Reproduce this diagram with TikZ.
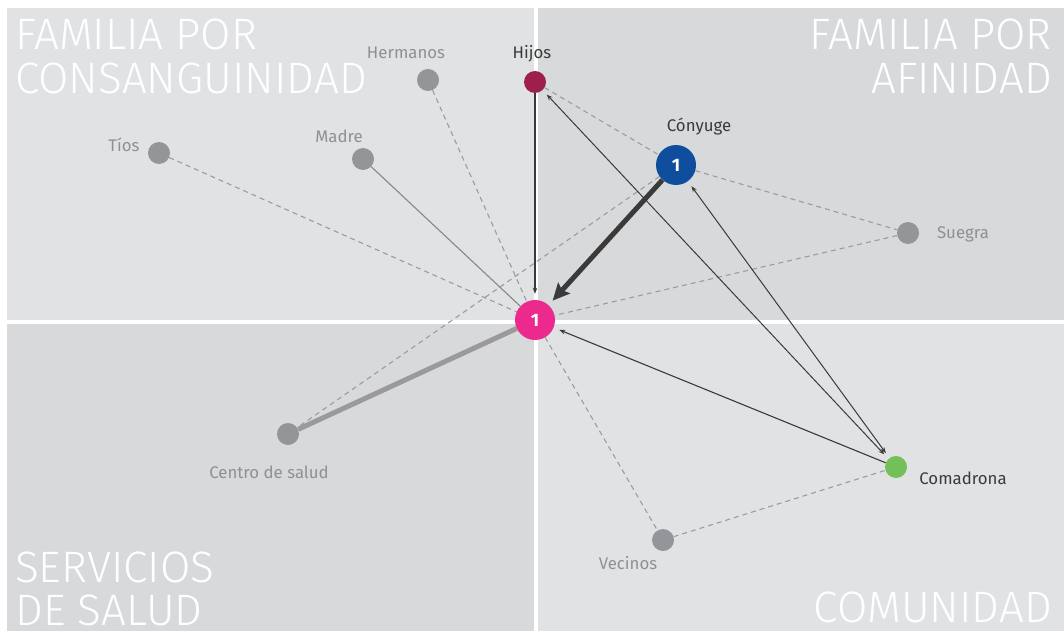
\documentclass[tikz,border=0pt]{standalone}
\usepackage{fontspec}
\setmainfont{Fira Sans}
\newfontfamily\titlefont{Fira Sans Light}
\usetikzlibrary{arrows.meta}
\definecolor{panelA}{HTML}{E1E2E4}
\definecolor{panelB}{HTML}{D8D9DB}
\definecolor{nodegray}{HTML}{939598}
\definecolor{labgray}{HTML}{8E9093}
\definecolor{labdark}{HTML}{3A3A3A}
\definecolor{hijoscol}{HTML}{9E1F4B}
\definecolor{conycol}{HTML}{0E4E9D}
\definecolor{egocol}{HTML}{EC2A8E}
\definecolor{comacol}{HTML}{74BF5A}
\definecolor{dashcol}{HTML}{9A9C9F}
\definecolor{darkline}{HTML}{3A3A3A}
\definecolor{thinline}{HTML}{85878A}
\definecolor{thickgraycol}{HTML}{9A9A9C}
\pgfdeclarelayer{bg}
\pgfdeclarelayer{edges}
\pgfsetlayers{bg,edges,main}
\tikzset{
  paneltitle/.style={font=\titlefont\fontsize{44}{44}\selectfont, text=white, inner sep=0pt},
  gnode/.style={circle, fill=nodegray, minimum size=22pt, inner sep=0pt},
  cnode/.style={circle, minimum size=22pt, inner sep=0pt},
  bignode/.style={circle, minimum size=40pt, inner sep=0pt, text=white, font=\bfseries\fontsize{18}{18}\selectfont},
  glabel/.style={font=\fontsize{16.8}{17}\selectfont, text=labgray, inner sep=0pt},
  dlabel/.style={font=\fontsize{16.8}{17}\selectfont, text=labdark, inner sep=0pt},
  dashedge/.style={draw=dashcol, line width=1.1pt, dash pattern=on 5pt off 4pt},
  thinedge/.style={draw=thinline, line width=1.1pt},
  darkarrow/.style={draw=darkline, line width=1.1pt, -{Stealth[length=6pt,width=4.5pt]}, shorten >=6pt},
  biarrow/.style={draw=darkline, line width=1pt, {Stealth[length=6pt,width=4.5pt]}-{Stealth[length=6pt,width=4.5pt]}, shorten >=6pt, shorten <=6pt},
  thickarrow/.style={draw=darkline, line width=5pt, -{Stealth[length=17pt,width=16pt,inset=3pt]}, shorten >=6pt},
  thickgray/.style={draw=thickgraycol, line width=5pt}
}
\begin{document}
\begin{tikzpicture}[x=1pt,y=-1pt]
\useasboundingbox (0,0) rectangle (1064,631);
\begin{pgfonlayer}{bg}
\fill[white] (0,0) rectangle (1064,631);
\fill[panelA] (7,8) rectangle (534,320);
\fill[panelB] (538,8) rectangle (1064,320);
\fill[panelB] (7,324) rectangle (534,631);
\fill[panelA] (538,324) rectangle (1064,631);
\end{pgfonlayer}

% titles
\node[paneltitle, anchor=base west] (t1a) at (15,50) {FAMILIA POR};
\node[paneltitle, anchor=base west] (t1b) at (15,94) {CONSANGUINIDAD};
\node[paneltitle, anchor=base east] (t2a) at (1052,50) {FAMILIA POR};
\node[paneltitle, anchor=base east] (t2b) at (1052,94) {AFINIDAD};
\node[paneltitle, anchor=base west] (t3a) at (15,582) {SERVICIOS};
\node[paneltitle, anchor=base west] (t3b) at (15,625) {DE SALUD};
\node[paneltitle, anchor=base east] (t4a) at (1052,622) {COMUNIDAD};

% nodes
\node[gnode] (tios) at (159,153) {};
\node[gnode] (madre) at (363,159) {};
\node[gnode] (herm) at (428,80) {};
\node[cnode, fill=hijoscol] (hijos) at (535,82) {};
\node[bignode, fill=conycol] (cony) at (676,165) {1};
\node[gnode] (suegra) at (908,233) {};
\node[cnode, fill=comacol] (coma) at (896,467) {};
\node[gnode] (vec) at (663,540) {};
\node[gnode] (centro) at (288,434) {};
\node[bignode, fill=egocol] (ego) at (535,320) {1};

% labels
\node[glabel, anchor=base] (tiosl) at (124,152) {Tíos};
\node[glabel, anchor=base] (madrel) at (339,143) {Madre};
\node[glabel, anchor=base] (herml) at (406,59) {Hermanos};
\node[dlabel, anchor=base] (hijosl) at (532,59) {Hijos};
\node[dlabel, anchor=base] (conyl) at (699,132) {Cónyuge};
\node[glabel, anchor=base] (suegral) at (963,238) {Suegra};
\node[dlabel, anchor=base] (comal) at (963,484) {Comadrona};
\node[glabel, anchor=base] (vecl) at (628,569) {Vecinos};
\node[glabel, anchor=base] (centrol) at (269,478) {Centro de salud};

% edges
\begin{pgfonlayer}{edges}
\draw[dashedge] (tios) -- (ego);
\draw[thinedge] (madre) -- (ego);
\draw[dashedge] (herm) -- (ego);
\draw[dashedge] (hijos) -- (cony);
\draw[dashedge] (cony) -- (suegra);
\draw[dashedge] (cony) -- (centro);
\draw[dashedge] (suegra) -- (ego);
\draw[dashedge] (ego) -- (vec);
\draw[dashedge] (vec) -- (coma);
\draw[thickgray] (centro) -- (ego);
\draw[darkarrow] (hijos) -- (ego);
\draw[thickarrow] (cony) -- (ego);
\draw[biarrow] (hijos) -- (coma);
\draw[biarrow] (cony) -- (coma);
\draw[darkarrow] (coma) -- (ego);
\end{pgfonlayer}
\end{tikzpicture}
\end{document}
